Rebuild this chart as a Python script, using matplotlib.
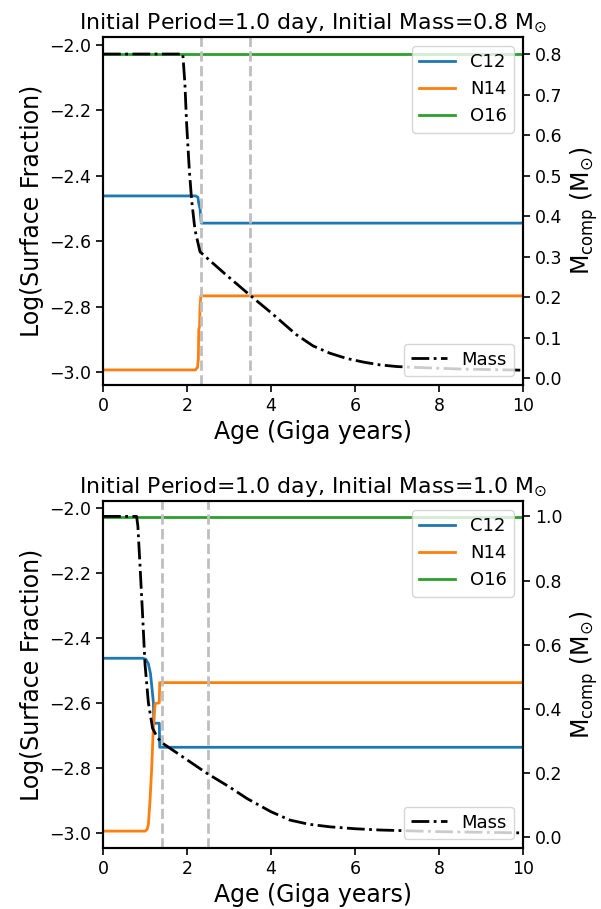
import numpy as np
import matplotlib
matplotlib.use("Agg")
import matplotlib.pyplot as plt

# ages in Gyr, values read off the reference
# --- panel 1: P=1.0 d, M=0.8 Msun
p1_c12_age = [0, 2.21, 2.26, 2.28, 2.31, 2.33, 2.34, 10]
p1_c12 = [-2.462, -2.462, -2.466, -2.485, -2.50, -2.53, -2.545, -2.545]
p1_n14_age = [0, 2.2, 2.25, 2.27, 2.28, 2.30, 2.31, 2.33, 10]
p1_n14 = [-2.993, -2.993, -2.985, -2.96, -2.87, -2.86, -2.80, -2.767, -2.767]
p1_o16_age = [0, 10]
p1_o16 = [-2.028, -2.028]
p1_mass_age = [0, 1.9, 1.95, 1.99, 2.055, 2.11, 2.19, 2.31, 2.9, 3.5, 4.0, 4.6, 5.0, 5.4,
               5.8, 6.2, 6.6, 7.0, 7.4, 8.5, 10]
p1_mass = [0.8, 0.8, 0.727, 0.63, 0.514, 0.44, 0.366, 0.312, 0.258, 0.205, 0.162, 0.108, 0.08, 0.062,
           0.049, 0.04, 0.033, 0.029, 0.027, 0.023, 0.02]
p1_vlines = [2.33, 3.5]

# --- panel 2: P=1.0 d, M=1.0 Msun
p2_c12_age = [0, 0.95, 1.02, 1.08, 1.13, 1.17, 1.20, 1.21, 1.34, 1.35, 10]
p2_c12 = [-2.463, -2.463, -2.466, -2.48, -2.51, -2.56, -2.60, -2.663, -2.663, -2.737, -2.737]
p2_n14_age = [0, 1.0, 1.05, 1.08, 1.12, 1.16, 1.19, 1.22, 1.24, 1.34, 1.35, 10]
p2_n14 = [-2.995, -2.995, -2.99, -2.975, -2.9, -2.8, -2.7, -2.64, -2.603, -2.60, -2.538, -2.538]
p2_o16_age = [0, 10]
p2_o16 = [-2.027, -2.027]
p2_mass_age = [0, 0.8, 0.83, 0.88, 0.94, 1.0, 1.08, 1.18, 1.3, 1.4, 1.83, 2.47, 3.0, 3.43, 4.0,
               4.45, 4.9, 5.4, 6.0, 6.6, 8.0, 10]
p2_mass = [1.0, 1.0, 0.97, 0.85, 0.70, 0.54, 0.42, 0.34, 0.31, 0.295, 0.257, 0.2, 0.158, 0.121, 0.08,
           0.054, 0.041, 0.033, 0.027, 0.023, 0.018, 0.014]
p2_vlines = [1.4, 2.5]

panels = [
    dict(mass0="0.8", c12=(p1_c12_age, p1_c12), n14=(p1_n14_age, p1_n14), o16=(p1_o16_age, p1_o16),
         mass=(p1_mass_age, p1_mass), vl=p1_vlines, ylim=(-3.039, -1.977), y2lim=(-0.0165, 0.842),
         y2ticks=np.arange(0, 0.81, 0.1), rect=[103/601, 1-385/909, 420/601, 348/909]),
    dict(mass0="1.0", c12=(p2_c12_age, p2_c12), n14=(p2_n14_age, p2_n14), o16=(p2_o16_age, p2_o16),
         mass=(p2_mass_age, p2_mass), vl=p2_vlines, ylim=(-3.047, -1.979), y2lim=(-0.033, 1.048),
         y2ticks=np.arange(0, 1.01, 0.2), rect=[103/601, 1-848/909, 420/601, 347/909]),
]

plt.rcParams['font.family'] = ['DejaVu Sans']
fig = plt.figure(figsize=(6.01, 9.09), dpi=100)

for p in panels:
    ax = fig.add_axes(p["rect"])
    ax.plot(*p["c12"], color='C0', lw=2, label='C12')
    ax.plot(*p["n14"], color='C1', lw=2, label='N14')
    ax.plot(*p["o16"], color='C2', lw=2, label='O16')
    for v in p["vl"]:
        ax.axvline(v, color='0.75', ls='--', lw=2)
    ax.set_xlim(0, 10)
    ax.set_ylim(*p["ylim"])
    ax.set_yticks([-3.0, -2.8, -2.6, -2.4, -2.2, -2.0])
    ax.set_xticks([0, 2, 4, 6, 8, 10])
    ax.set_xlabel('Age (Giga years)', fontsize=17)
    ax.set_ylabel('Log(Surface Fraction)', fontsize=17)
    ax.set_title('Initial Period=1.0 day, Initial Mass=' + p["mass0"] + r' M$_{\odot}$', fontsize=15.8)
    ax.tick_params(labelsize=12.5, width=1.2, length=5)
    ax.legend(loc='upper right', fontsize=13)

    ax2 = ax.twinx()
    ax2.plot(*p["mass"], color='k', ls='-.', lw=2, label='Mass')
    ax2.set_ylim(*p["y2lim"])
    ax2.set_yticks(p["y2ticks"])
    ax2.set_ylabel(r'M$_{\rm comp}$ (M$_{\odot}$)', fontsize=17)
    ax2.tick_params(labelsize=12.5, width=1.2, length=5)
    ax2.legend(loc='lower right', fontsize=13)
    for a in (ax, ax2):
        for s in a.spines.values():
            s.set_linewidth(1.5)

fig.savefig('out.png', dpi=100)
